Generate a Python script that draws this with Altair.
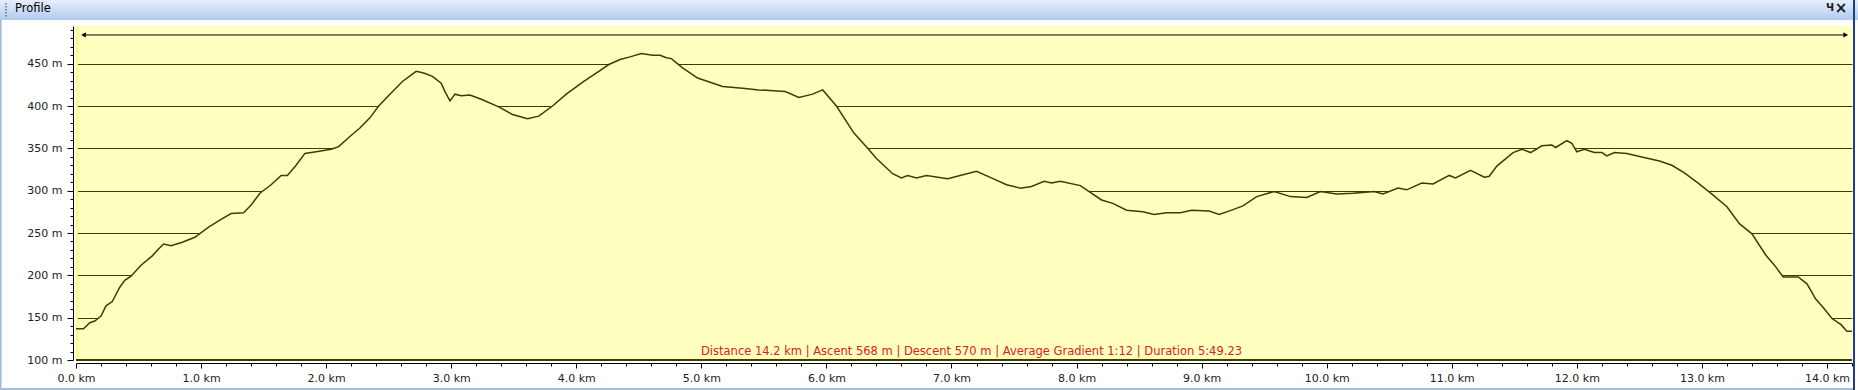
import altair as alt
import pandas as pd

# ---- data ----
dist = [0.0, 0.06, 0.11, 0.15, 0.2, 0.24, 0.29, 0.35, 0.39, 0.44,
        0.52, 0.61, 0.66, 0.7, 0.76, 0.85, 0.95, 1.06, 1.17, 1.24,
        1.34, 1.4, 1.47, 1.56, 1.64, 1.69, 1.76, 1.83, 1.92, 2.04,
        2.1, 2.19, 2.27, 2.35, 2.42, 2.51, 2.61, 2.72, 2.78, 2.85,
        2.92, 2.95, 2.99, 3.03, 3.08, 3.15, 3.24, 3.38, 3.49, 3.61,
        3.7, 3.81, 3.92, 4.06, 4.18, 4.26, 4.35, 4.43, 4.52, 4.61,
        4.67, 4.72, 4.76, 4.85, 4.97, 5.17, 5.33, 5.46, 5.67, 5.78,
        5.89, 5.97, 6.08, 6.22, 6.33, 6.4, 6.53, 6.6, 6.65, 6.72,
        6.8, 6.97, 7.1, 7.2, 7.35, 7.44, 7.55, 7.64, 7.74, 7.8,
        7.87, 8.03, 8.2, 8.29, 8.4, 8.53, 8.62, 8.72, 8.83, 8.92,
        9.06, 9.14, 9.24, 9.33, 9.44, 9.58, 9.71, 9.84, 9.95, 10.08,
        10.21, 10.38, 10.45, 10.57, 10.64, 10.76, 10.85, 10.98, 11.03, 11.15,
        11.26, 11.3, 11.36, 11.49, 11.56, 11.63, 11.72, 11.8, 11.83, 11.92,
        11.96, 12.0, 12.06, 12.14, 12.2, 12.24, 12.3, 12.4, 12.51, 12.66,
        12.76, 12.86, 12.97, 13.08, 13.2, 13.3, 13.4, 13.51, 13.58, 13.65,
        13.77, 13.84, 13.91, 13.97, 14.04, 14.11, 14.16, 14.2]

elev = [137, 137, 144, 146, 152, 164, 169, 186, 194, 199,
        212, 223, 231, 237, 235, 239, 245, 257, 267, 273,
        274, 283, 297, 307, 318, 318, 330, 344, 346, 349,
        352, 364, 374, 386, 400, 414, 429, 441, 439, 435,
        427, 417, 406, 414, 412, 413, 408, 399, 390, 385,
        388, 400, 414, 429, 441, 449, 455, 458, 462, 460,
        460, 457, 456, 445, 433, 423, 421, 419, 417, 410,
        414, 419, 400, 368, 350, 338, 320, 315, 318, 315,
        318, 314, 319, 323, 313, 307, 303, 305, 311, 309,
        311, 306, 289, 285, 277, 275, 272, 274, 274, 277,
        276, 272, 277, 282, 293, 299, 293, 292, 299, 296,
        297, 299, 296, 303, 301, 309, 308, 318, 315, 324,
        316, 317, 329, 345, 349, 345, 353, 354, 351, 359,
        356, 346, 349, 345, 345, 341, 345, 344, 340, 335,
        330, 321, 309, 296, 281, 261, 249, 224, 212, 198,
        198, 190, 172, 162, 149, 142, 134, 134]

y_ticks = list(range(100, 491, 10))
x_ticks = [round(i * 0.2, 1) for i in range(72)]
x_domain = [0, 14.2]
y_domain = [100, 494.5]
base_elev = 100

arrow_start = [0.06]
arrow_end = [14.15]
arrow_level = [483.9]

summary = "Distance 14.2 km | Ascent 568 m | Descent 570 m | Average Gradient 1:12 | Duration 5:49.23"
summary_pos = [7.16]
summary_level = [110]
panel_title = "Profile"

# ---- layout ----
W, H = 1776, 334
PAD_L, PAD_T, PAD_R, PAD_B = 76, 26, 6, 30
YELLOW = "#FFFFBF"
OLIVE = "#3D3D00"

df = pd.DataFrame({"d": dist, "e": elev})
one = pd.DataFrame({"a": [0]})

xscale = alt.Scale(domain=x_domain, nice=False, zero=False)
yscale = alt.Scale(domain=y_domain, nice=False, zero=False)

xaxis = alt.Axis(
    values=x_ticks,
    labelExpr="abs(datum.value - round(datum.value)) < 0.01 ? format(datum.value, '.1f') + ' km' : ''",
    tickSize={"condition": {"test": "abs(datum.value - round(datum.value)) > 0.01", "value": 3}, "value": 5},
    grid=False, offset=3, title=None,
    domainColor="#000000", tickColor="#000000",
    labelFont="DejaVu Sans", labelFontSize=11, labelColor="#222222",
    labelPadding=4, labelFlush=False, labelOverlap=False,
)
yaxis = alt.Axis(
    values=y_ticks,
    labelExpr="datum.value % 50 === 0 ? datum.value + ' m' : ''",
    tickSize={"condition": {"test": "datum.value % 50 !== 0", "value": 3}, "value": 6},
    grid=True, gridColor=OLIVE, gridWidth=1,
    gridOpacity={"condition": {"test": "datum.value % 50 === 0 && datum.value > 100", "value": 1}, "value": 0},
    offset=3, title=None,
    domainColor="#000000", tickColor="#000000",
    labelFont="DejaVu Sans", labelFontSize=11, labelColor="#222222",
    labelPadding=5, labelFlush=False, labelOverlap=False,
)

X = lambda f: alt.X(f, type="quantitative", scale=xscale, axis=xaxis)
Y = lambda f: alt.Y(f, type="quantitative", scale=yscale, axis=yaxis)

title_grad = alt.Gradient(
    gradient="linear",
    stops=[alt.GradientStop(color="#E6EFFC", offset=0),
           alt.GradientStop(color="#B3CAEE", offset=1)],
    x1=0, x2=0, y1=0, y2=1,
)

titlebar = alt.Chart(one).mark_rect(fill=title_grad).encode(
    x=alt.value(-PAD_L), x2=alt.value(W + PAD_R), y=alt.value(-PAD_T), y2=alt.value(-6))
title_txt = alt.Chart(one).mark_text(
    text=panel_title, align="left", baseline="middle", font="DejaVu Sans",
    fontSize=11.5, color="#000000").encode(x=alt.value(-61), y=alt.value(-17))
grip = alt.Chart(one).mark_rule(color="#5F7698", strokeWidth=1.5, strokeDash=[1.5, 1.5]).encode(
    x=alt.value(-70), y=alt.value(-23), y2=alt.value(-9))
pin = alt.Chart(one).mark_text(text="Ч", fontSize=10, fontWeight="bold", color="#1a1a1a",
                               font="DejaVu Sans").encode(x=alt.value(W - 22), y=alt.value(-18))
close = alt.Chart(one).mark_text(text="×", fontSize=15, fontWeight="bold", color="#1a1a1a",
                                 font="DejaVu Sans").encode(x=alt.value(W - 11), y=alt.value(-18))
left_border = alt.Chart(one).mark_rect(fill="#9DB5D8").encode(
    x=alt.value(-PAD_L), x2=alt.value(-PAD_L + 1.5), y=alt.value(-6), y2=alt.value(H + PAD_B))
bottom_border = alt.Chart(one).mark_rect(fill="#A9BDDA").encode(
    x=alt.value(-PAD_L), x2=alt.value(W + 1), y=alt.value(H + PAD_B - 2), y2=alt.value(H + PAD_B))
right_bar = alt.Chart(one).mark_rect(fill="#1F3C8E").encode(
    x=alt.value(W + 1), x2=alt.value(W + 3), y=alt.value(-PAD_T), y2=alt.value(H + PAD_B))
stripe = alt.Chart(one).mark_rect(fill="#FFFF70").encode(
    x=alt.value(0), x2=alt.value(2), y=alt.value(0), y2=alt.value(H))

area = alt.Chart(df).mark_area(color=YELLOW, opacity=1).encode(
    x=X("d"), y=Y("e"), y2=alt.datum(base_elev))
line = alt.Chart(df).mark_line(color=OLIVE, strokeWidth=1.5).encode(x=X("d"), y=Y("e"))

base_df = pd.DataFrame({"d": [x_domain[0]], "d2": [x_domain[1]], "e": [base_elev]})
base_rule = alt.Chart(base_df).mark_rule(color=OLIVE, strokeWidth=2).encode(
    x=X("d"), x2="d2", y=Y("e"))

arrow_df = pd.DataFrame({"d": arrow_start, "d2": arrow_end, "e": arrow_level})
arrow = alt.Chart(arrow_df).mark_rule(color="#000000", strokeWidth=1).encode(
    x=X("d"), x2="d2", y=Y("e"))
heads_df = pd.DataFrame({"d": [arrow_start[0], arrow_end[0]], "e": arrow_level * 2,
                         "s": ["triangle-left", "triangle-right"]})
heads = alt.Chart(heads_df).mark_point(filled=True, color="#000000", size=28, opacity=1).encode(
    x=X("d"), y=Y("e"), shape=alt.Shape("s:N", scale=None, legend=None))

sum_df = pd.DataFrame({"d": summary_pos, "e": summary_level, "t": [summary]})
sumtext = alt.Chart(sum_df).mark_text(
    align="center", baseline="middle", font="DejaVu Sans", fontSize=11.5, color="#E0201C").encode(
    x=X("d"), y=Y("e"), text="t:N")

chart = alt.layer(
    titlebar, title_txt, grip, pin, close, left_border, bottom_border, right_bar,
    area, stripe, line, base_rule, arrow, heads, sumtext,
).properties(
    width=W, height=H,
    padding={"left": PAD_L, "top": PAD_T, "right": PAD_R, "bottom": PAD_B},
    autosize=alt.AutoSizeParams(type="none"),
    background="#FFFFFF",
).configure_view(fill=YELLOW, strokeWidth=0)

chart.save("out.html", embed_options={"renderer": "svg", "actions": False})
